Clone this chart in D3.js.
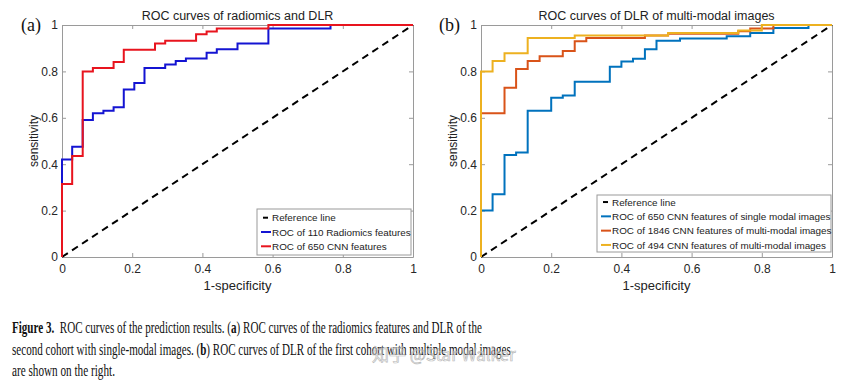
<!DOCTYPE html>
<html>
<head>
<meta charset="utf-8">
<script src="https://cdn.jsdelivr.net/npm/d3@7"></script>
<style>
  body { margin: 0; background: #fff; }
  svg { display: block; }
</style>
</head>
<body>
<svg id="fig" width="856" height="387"></svg>
<script>
// ROC data (step corners: fpr where the step happens, tpr after it)
const ticks = [0, 0.2, 0.4, 0.6, 0.8, 1];
const tickLabels = ['0', '0.2', '0.4', '0.6', '0.8', '1'];

const refLine = [[0, 0], [1, 1]];

// (a) second cohort, single-modal
const radFpr = [0, 0, 0.029, 0.059, 0.088, 0.118, 0.147, 0.176, 0.206, 0.235, 0.294, 0.324, 0.353, 0.412, 0.441, 0.5, 0.588, 0.765, 1];
const radTpr = [0, 0.42, 0.475, 0.59, 0.62, 0.63, 0.645, 0.722, 0.75, 0.815, 0.83, 0.845, 0.856, 0.88, 0.895, 0.92, 0.985, 1, 1];
const cnn650Fpr = [0, 0, 0.029, 0.059, 0.088, 0.147, 0.176, 0.265, 0.294, 0.382, 0.412, 0.441, 0.588, 1];
const cnn650Tpr = [0, 0.315, 0.435, 0.80, 0.815, 0.84, 0.893, 0.92, 0.932, 0.96, 0.972, 0.985, 1, 1];

// (b) first cohort, multi-modal
const singleFpr = [0, 0, 0.033, 0.067, 0.1, 0.133, 0.2, 0.233, 0.267, 0.367, 0.4, 0.433, 0.467, 0.5, 0.567, 0.7, 0.767, 0.833, 0.933, 1];
const singleTpr = [0, 0.2, 0.27, 0.44, 0.45, 0.63, 0.686, 0.696, 0.755, 0.82, 0.843, 0.855, 0.895, 0.932, 0.942, 0.952, 0.965, 0.987, 1, 1];
const multi1846Fpr = [0, 0, 0.067, 0.1, 0.133, 0.167, 0.233, 0.267, 0.3, 0.467, 0.533, 0.733, 0.767, 0.833, 1];
const multi1846Tpr = [0, 0.62, 0.73, 0.81, 0.845, 0.865, 0.888, 0.93, 0.944, 0.955, 0.962, 0.973, 0.985, 1, 1];
const multi494Fpr = [0, 0, 0.033, 0.067, 0.133, 0.267, 0.533, 0.733, 0.8, 1];
const multi494Tpr = [0, 0.80, 0.845, 0.878, 0.944, 0.955, 0.965, 0.976, 1, 1];

const zip = (xs, ys) => xs.map((x, i) => [x, ys[i]]);

const panels = [
    {
        left: 62, right: 413, tag: '(a)', tagX: 21,
        title: 'ROC curves of radiomics and DLR',
        legend: { x: 257, y: 209, w: 154, h: 46 },
        series: [
            { name: 'ROC of 110 Radiomics features', color: '#1414d2', pts: zip(radFpr, radTpr) },
            { name: 'ROC of 650 CNN features', color: '#e8141e', pts: zip(cnn650Fpr, cnn650Tpr) }
        ]
    },
    {
        left: 481, right: 832, tag: '(b)', tagX: 439,
        title: 'ROC curves of DLR of multi-modal images',
        legend: { x: 597, y: 195, w: 234, h: 57 },
        series: [
            { name: 'ROC of 650 CNN features of single modal images', color: '#0072bd', pts: zip(singleFpr, singleTpr) },
            { name: 'ROC of 1846 CNN features of multi-modal images', color: '#d95319', pts: zip(multi1846Fpr, multi1846Tpr) },
            { name: 'ROC of 494 CNN features of multi-modal images', color: '#edb120', pts: zip(multi494Fpr, multi494Tpr) }
        ]
    }
];

const svg = d3.select('#fig');
const yTop = 25, yBottom = 257;
const sans = 'Liberation Sans, Arial, Helvetica, sans-serif';

panels.forEach(p => {
    const x = d3.scaleLinear().domain([0, 1]).range([p.left, p.right]);
    const y = d3.scaleLinear().domain([0, 1]).range([yBottom, yTop]);
    const g = svg.append('g');

    // axes box with inward ticks on all four sides
    g.append('g').attr('transform', `translate(0,${yBottom})`)
        .call(d3.axisBottom(x).tickValues(ticks).tickFormat((d, i) => tickLabels[i]).tickSizeInner(-4).tickSizeOuter(0).tickPadding(7));
    g.append('g').attr('transform', `translate(0,${yTop})`)
        .call(d3.axisTop(x).tickValues(ticks).tickFormat('').tickSizeInner(-4).tickSizeOuter(0));
    g.append('g').attr('transform', `translate(${p.left},0)`)
        .call(d3.axisLeft(y).tickValues(ticks).tickFormat((d, i) => tickLabels[i]).tickSizeInner(-4).tickSizeOuter(0).tickPadding(4));
    g.append('g').attr('transform', `translate(${p.right},0)`)
        .call(d3.axisRight(y).tickValues(ticks).tickFormat('').tickSizeInner(-4).tickSizeOuter(0));
    g.selectAll('.domain, .tick line').attr('stroke', '#9a9a9a');
    g.selectAll('.tick text').attr('fill', '#262626').style('font', `12px ${sans}`);

    // reference diagonal
    g.append('path')
        .attr('d', d3.line().x(d => x(d[0])).y(d => y(d[1]))(refLine))
        .attr('fill', 'none').attr('stroke', '#000').attr('stroke-width', 2)
        .attr('stroke-dasharray', '7,5');

    // ROC step curves
    const line = d3.line().x(d => x(d[0])).y(d => y(d[1])).curve(d3.curveStepAfter);
    p.series.forEach(s => {
        g.append('path').attr('d', line(s.pts))
            .attr('fill', 'none').attr('stroke', s.color).attr('stroke-width', 2);
    });

    // titles and labels
    const cx = (p.left + p.right) / 2;
    g.append('text').attr('x', cx).attr('y', 19.5).attr('text-anchor', 'middle')
        .style('font', `12.5px ${sans}`).attr('fill', '#222').text(p.title);
    g.append('text').attr('x', cx).attr('y', 290).attr('text-anchor', 'middle')
        .style('font', `13px ${sans}`).attr('fill', '#222').text('1-specificity');
    g.append('text').attr('transform', `translate(${p.left - 24},${(yTop + yBottom) / 2}) rotate(-90)`)
        .attr('text-anchor', 'middle')
        .style('font', `12px ${sans}`).attr('fill', '#222').text('sensitivity');
    g.append('text').attr('x', p.tagX).attr('y', 31)
        .style('font', '18px Liberation Serif, Times New Roman, serif').attr('fill', '#111').text(p.tag);

    // legend
    const L = p.legend;
    const lg = g.append('g');
    lg.append('rect').attr('x', L.x).attr('y', L.y).attr('width', L.w).attr('height', L.h)
        .attr('fill', '#fff').attr('stroke', '#9a9a9a').attr('stroke-width', 1);
    const items = [{ name: 'Reference line', color: '#000', dash: true }].concat(p.series);
    const step = 14.3;
    const y0 = L.y + (L.h - step * items.length) / 2 + step / 2;
    items.forEach((it, i) => {
        const yy = y0 + step * i;
        lg.append('line').attr('x1', it.dash ? L.x + 6 : L.x + 4).attr('x2', it.dash ? L.x + 11 : L.x + 14)
            .attr('y1', yy).attr('y2', yy).attr('stroke', it.color).attr('stroke-width', 2);
        lg.append('text').attr('x', L.x + 15).attr('y', yy).attr('dy', '0.36em')
            .style('font', `9.9px ${sans}`).attr('fill', '#222').text(it.name);
    });
});

// caption: three lines, each fitted to the width it has in the figure
const serif = 'Liberation Serif, Times New Roman, serif';
const capLines = [
    { y: 333, width: 470, parts: [['Figure 3.', true], ['\u00a0 ROC curves of the prediction results. (', false], ['a', true], [') ROC curves of the radiomics features and DLR of the', false]] },
    { y: 355, width: 499, parts: [['second cohort with single-modal images. (', false], ['b', true], [') ROC curves of DLR of the first cohort with multiple modal images', false]] },
    { y: 376, width: 103, parts: [['are shown on the right.', false]] }
];
capLines.forEach(c => {
    const grp = svg.append('g');
    const t = grp.append('text').attr('x', 0).attr('y', 0)
        .style('font', `16.5px ${serif}`).attr('fill', '#111');
    c.parts.forEach(([txt, bold]) => {
        t.append('tspan').style('font-weight', bold ? 'bold' : 'normal').text(txt);
    });
    const w = t.node().getBBox().width;
    grp.attr('transform', `translate(12,${c.y}) scale(${c.width / w},1)`);
});

// watermark
svg.append('text').attr('x', 372).attr('y', 361)
    .style('font', '17px Noto Sans CJK SC, sans-serif')
    .attr('fill', 'rgba(255,255,255,0.55)').attr('stroke', '#aaa').attr('stroke-width', 0.7)
    .attr('opacity', 0.8)
    .text('知乎 @Star Walker');
</script>
</body>
</html>
